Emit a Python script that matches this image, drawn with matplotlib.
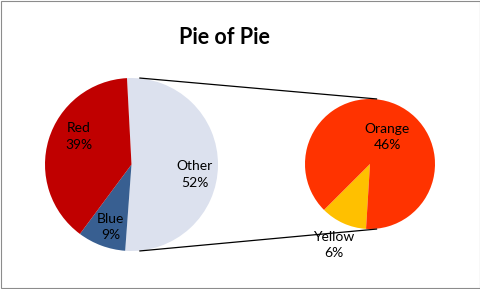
import numpy as np
import matplotlib
matplotlib.use("Agg")
import matplotlib.pyplot as plt
from matplotlib.patches import Rectangle

plt.rcParams["font.family"] = ["Lato", "DejaVu Sans"]

# данные: первые две категории в основном круге, остальные — во вторичном
CATEGORIES = ["Red", "Blue", "Orange", "Yellow"]
VALUES = [39, 9, 46, 6]
SPLIT = 2
OTHER_LABEL = "Other"

MAIN_COLORS = {"Other": "#DCE1EE", "Blue": "#385F91", "Red": "#C00000"}
SUB_COLORS = {"Yellow": "#FFC000", "Orange": "#FF3300"}

# смещение угла подписи от середины сектора и радиальная доля
LABEL_PLACE = {
    "Red": (-11, 0.69),
    "Blue": (2, 0.76),
    "Other": (-8.5, 0.74),
    "Orange": (-8, 0.49),
    "Yellow": (0, 1.37),
}

total = sum(VALUES)
main_names = [OTHER_LABEL, CATEGORIES[1], CATEGORIES[0]]
main_vals = [sum(VALUES[SPLIT:]), VALUES[1], VALUES[0]]
sub_names = [CATEGORIES[3], CATEGORIES[2]]
sub_vals = [VALUES[3], VALUES[2]]

W, H = 481, 289
fig = plt.figure(figsize=(W / 100, H / 100), dpi=100)
ax = fig.add_axes([0, 0, 1, 1])

c1, r1 = (131.5, 124.5), 86.5
c2, r2 = (370.0, 125.0), 65.0

w1, _ = ax.pie(main_vals, colors=[MAIN_COLORS[n] for n in main_names],
               startangle=93, counterclock=False, center=c1, radius=r1,
               wedgeprops=dict(linewidth=0))
w2, _ = ax.pie(sub_vals, colors=[SUB_COLORS[n] for n in sub_names],
               startangle=-93.5, counterclock=False, center=c2, radius=r2,
               wedgeprops=dict(linewidth=0))


def put_labels(wedges, names, vals, center, radius):
    for w, n, v in zip(wedges, names, vals):
        da, frac = LABEL_PLACE[n]
        a = np.deg2rad((w.theta1 + w.theta2) / 2 + da)
        x = center[0] + frac * radius * np.cos(a)
        y = center[1] + frac * radius * np.sin(a)
        ax.text(x, y, f"{n}\n{v / total * 100:.0f}%", ha="center", va="center",
                fontsize=10, color="black", linespacing=1.45)


put_labels(w1, main_names, main_vals, c1, r1)
put_labels(w2, sub_names, sub_vals, c2, r2)

# соединительные линии между кругами
for s in (1, -1):
    ax.plot([c1[0] + 0.09 * r1, c2[0] + 0.11 * r2],
            [c1[1] + s * r1, c2[1] + s * r2], color="black", lw=0.9,
            solid_capstyle="butt")

ax.text(224, 252, "Pie of Pie", ha="center", va="center",
        fontsize=15.5, fontweight="bold", color="black")

ax.set_xlim(0, W)
ax.set_ylim(0, H)
ax.set_aspect("equal")
ax.axis("off")

# рамка области диаграммы
ax.add_patch(Rectangle((0.5, 0.8), W - 1.5, H - 1.5, fill=False,
                       edgecolor="#8c8c8c", lw=0.8, clip_on=False))

fig.savefig("out.png", dpi=100)
